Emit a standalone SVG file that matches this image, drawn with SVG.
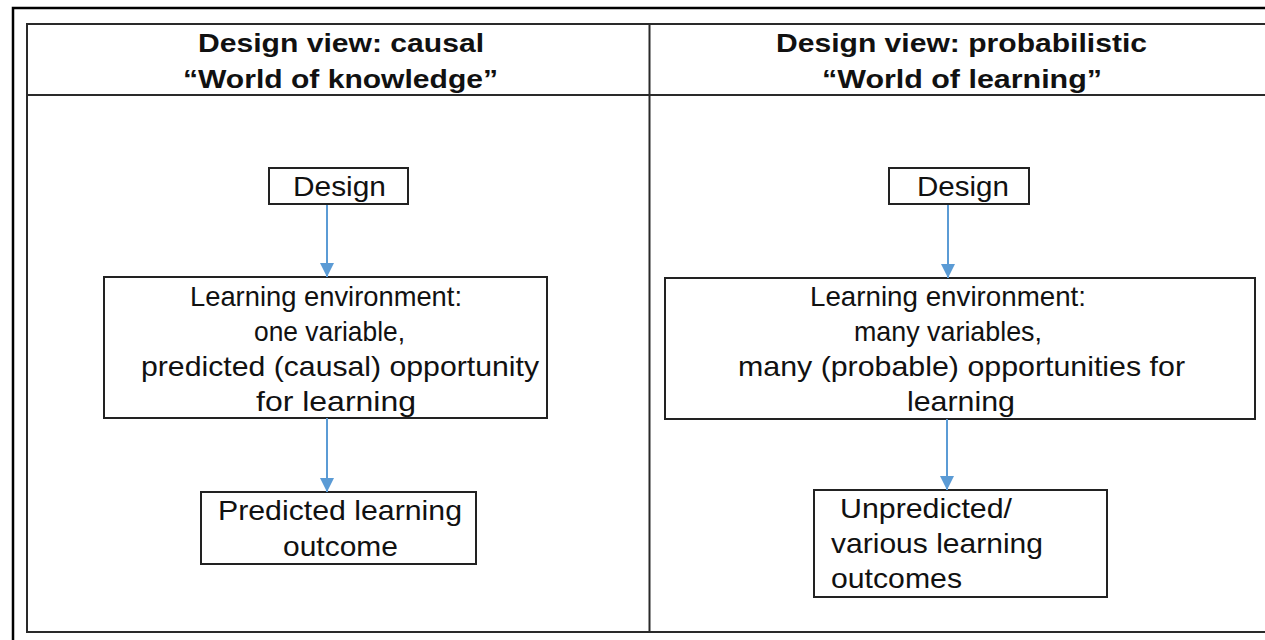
<svg xmlns="http://www.w3.org/2000/svg" width="1265" height="640" viewBox="0 0 1265 640">
  <style>
    .frame { fill: none; stroke: #000; stroke-width: 2.5; }
    .grid { fill: none; stroke: #2a2a2a; stroke-width: 2; }
    .box { fill: #fff; stroke: #222; stroke-width: 2; }
    .head { font-family: "Liberation Sans", Arial, sans-serif; font-weight: bold; font-size: 26px; fill: #111; }
    .lbl { font-family: "Liberation Sans", Arial, sans-serif; font-size: 28px; fill: #111; }
    .link { stroke: #5b9bd5; stroke-width: 2; fill: none; marker-end: url(#tip); }
  </style>
  <defs>
    <marker id="tip" viewBox="0 0 10 10" refX="10" refY="5" markerWidth="15" markerHeight="14" markerUnits="userSpaceOnUse" orient="auto">
      <path d="M0,0 L10,5 L0,10 z" fill="#5b9bd5"/>
    </marker>
  </defs>
  <rect width="1265" height="640" fill="#fff"/>

  <!-- outer page frame -->
  <path class="frame" d="M13,642 V8 H1267"/>

  <!-- two-column table -->
  <g id="table">
    <path class="grid" d="M1270,24 H27 V632 H1270 M27,95 H1270 M649.5,24 V632"/>
    <text class="head" x="198" y="52" textLength="286" lengthAdjust="spacingAndGlyphs">Design view: causal</text>
    <text class="head" x="183" y="88" textLength="315" lengthAdjust="spacingAndGlyphs">“World of knowledge”</text>
    <text class="head" x="776" y="52" textLength="371" lengthAdjust="spacingAndGlyphs">Design view: probabilistic</text>
    <text class="head" x="822" y="88" textLength="280" lengthAdjust="spacingAndGlyphs">“World of learning”</text>
  </g>

  <!-- left column: causal view -->
  <g id="design-causal">
    <rect class="box" x="269" y="168" width="139" height="36"/>
    <text class="lbl" x="293" y="196" textLength="93" lengthAdjust="spacingAndGlyphs">Design</text>
  </g>
  <g id="environment-causal">
    <rect class="box" x="104" y="277" width="443" height="141"/>
    <text class="lbl" x="190" y="306" textLength="272" lengthAdjust="spacingAndGlyphs">Learning environment:</text>
    <text class="lbl" x="254" y="341" textLength="151" lengthAdjust="spacingAndGlyphs">one variable,</text>
    <text class="lbl" x="141" y="376" textLength="398" lengthAdjust="spacingAndGlyphs">predicted (causal) opportunity</text>
    <text class="lbl" x="256" y="411" textLength="160" lengthAdjust="spacingAndGlyphs">for learning</text>
  </g>
  <g id="outcome-causal">
    <rect class="box" x="201" y="492" width="275" height="72"/>
    <text class="lbl" x="218" y="520" textLength="244" lengthAdjust="spacingAndGlyphs">Predicted learning</text>
    <text class="lbl" x="283" y="556" textLength="115" lengthAdjust="spacingAndGlyphs">outcome</text>
  </g>

  <!-- right column: probabilistic view -->
  <g id="design-probabilistic">
    <rect class="box" x="889" y="168" width="140" height="36"/>
    <text class="lbl" x="917" y="196" textLength="92" lengthAdjust="spacingAndGlyphs">Design</text>
  </g>
  <g id="environment-probabilistic">
    <rect class="box" x="665" y="278" width="590" height="141"/>
    <text class="lbl" x="810" y="306" textLength="276" lengthAdjust="spacingAndGlyphs">Learning environment:</text>
    <text class="lbl" x="854" y="341" textLength="188" lengthAdjust="spacingAndGlyphs">many variables,</text>
    <text class="lbl" x="738" y="376" textLength="447" lengthAdjust="spacingAndGlyphs">many (probable) opportunities for</text>
    <text class="lbl" x="907" y="411" textLength="108" lengthAdjust="spacingAndGlyphs">learning</text>
  </g>
  <g id="outcome-probabilistic">
    <rect class="box" x="814" y="490" width="293" height="107"/>
    <text class="lbl" x="840" y="518" textLength="172" lengthAdjust="spacingAndGlyphs">Unpredicted/</text>
    <text class="lbl" x="831" y="553" textLength="212" lengthAdjust="spacingAndGlyphs">various learning</text>
    <text class="lbl" x="831" y="588" textLength="131" lengthAdjust="spacingAndGlyphs">outcomes</text>
  </g>

  <!-- connectors -->
  <g id="connectors">
    <path class="link" d="M327,205 V277"/>
    <path class="link" d="M327,418 V492"/>
    <path class="link" d="M948,205 V278"/>
    <path class="link" d="M947,419 V490"/>
  </g>
</svg>
